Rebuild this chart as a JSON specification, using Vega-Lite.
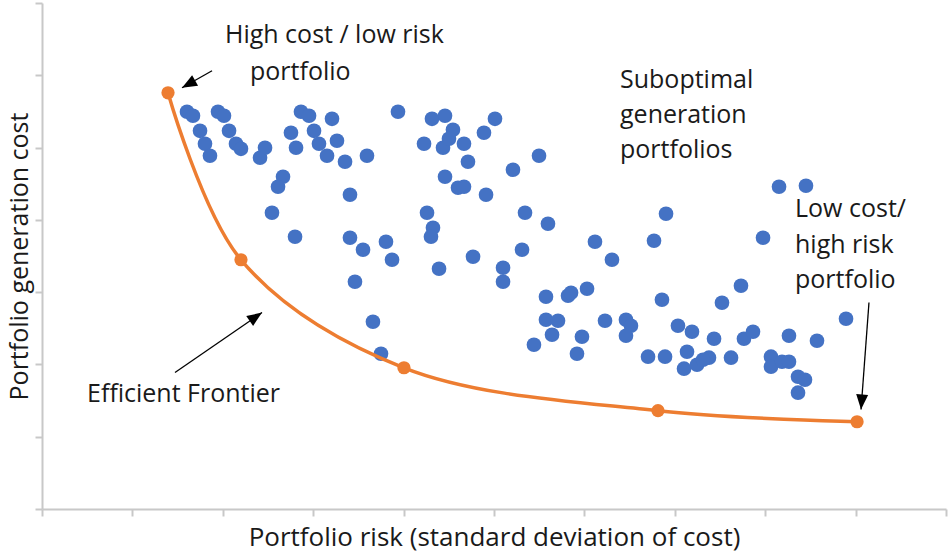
{
  "$schema": "https://vega.github.io/schema/vega-lite/v6.json",
  "width": 904,
  "height": 506,
  "autosize": {"type": "none"},
  "padding": {"left": 42, "top": 3, "right": 2, "bottom": 43},
  "background": "white",
  "config": {
    "view": {"stroke": null},
    "font": "Open Sans",
    "axis": {
      "grid": false,
      "labels": false,
      "domainColor": "#c8c8c8",
      "domainWidth": 2,
      "tickColor": "#c8c8c8",
      "tickWidth": 2,
      "tickSize": 7,
      "titleFont": "Open Sans",
      "titleFontSize": 26,
      "titleFontWeight": "normal",
      "titleColor": "#1a1a1a"
    }
  },
  "datasets": {
    "portfolios": [
      {"risk": 1.604, "cost": 5.495}, {"risk": 1.670, "cost": 5.440}, {"risk": 1.748, "cost": 5.232},
      {"risk": 1.803, "cost": 5.053}, {"risk": 1.858, "cost": 4.887}, {"risk": 1.947, "cost": 5.495},
      {"risk": 2.013, "cost": 5.440}, {"risk": 2.069, "cost": 5.232}, {"risk": 2.146, "cost": 5.053},
      {"risk": 2.201, "cost": 4.983}, {"risk": 2.412, "cost": 4.859}, {"risk": 2.467, "cost": 4.997},
      {"risk": 2.666, "cost": 4.596}, {"risk": 2.611, "cost": 4.458}, {"risk": 2.544, "cost": 4.098},
      {"risk": 2.799, "cost": 3.766}, {"risk": 2.754, "cost": 5.205}, {"risk": 2.810, "cost": 4.997},
      {"risk": 2.865, "cost": 5.495}, {"risk": 2.954, "cost": 5.440}, {"risk": 3.009, "cost": 5.232},
      {"risk": 3.064, "cost": 5.053}, {"risk": 3.153, "cost": 4.887}, {"risk": 3.208, "cost": 5.398},
      {"risk": 3.263, "cost": 5.094}, {"risk": 3.352, "cost": 4.804}, {"risk": 3.595, "cost": 4.887},
      {"risk": 3.407, "cost": 4.347}, {"risk": 3.407, "cost": 3.752}, {"risk": 3.551, "cost": 3.586},
      {"risk": 3.805, "cost": 3.697}, {"risk": 3.872, "cost": 3.448}, {"risk": 3.462, "cost": 3.144},
      {"risk": 3.661, "cost": 2.591}, {"risk": 3.750, "cost": 2.148}, {"risk": 3.938, "cost": 5.495},
      {"risk": 4.314, "cost": 5.398}, {"risk": 4.458, "cost": 5.440}, {"risk": 4.226, "cost": 5.053},
      {"risk": 4.436, "cost": 4.997}, {"risk": 4.458, "cost": 4.596}, {"risk": 4.259, "cost": 4.098},
      {"risk": 4.325, "cost": 3.891}, {"risk": 4.303, "cost": 3.766}, {"risk": 4.392, "cost": 3.324},
      {"risk": 4.546, "cost": 5.246}, {"risk": 4.502, "cost": 5.122}, {"risk": 4.668, "cost": 5.053},
      {"risk": 4.712, "cost": 4.804}, {"risk": 4.889, "cost": 5.205}, {"risk": 5.011, "cost": 5.398},
      {"risk": 4.602, "cost": 4.444}, {"risk": 4.668, "cost": 4.458}, {"risk": 4.912, "cost": 4.347},
      {"risk": 5.210, "cost": 4.693}, {"risk": 5.498, "cost": 4.887}, {"risk": 4.768, "cost": 3.490},
      {"risk": 5.100, "cost": 3.338}, {"risk": 5.100, "cost": 3.144}, {"risk": 5.310, "cost": 3.586},
      {"risk": 5.343, "cost": 4.098}, {"risk": 5.597, "cost": 3.946}, {"risk": 6.117, "cost": 3.697},
      {"risk": 6.305, "cost": 3.448}, {"risk": 6.903, "cost": 4.084}, {"risk": 6.770, "cost": 3.711},
      {"risk": 6.858, "cost": 2.895}, {"risk": 5.575, "cost": 2.936}, {"risk": 5.819, "cost": 2.950},
      {"risk": 5.852, "cost": 2.992}, {"risk": 6.029, "cost": 3.047}, {"risk": 5.575, "cost": 2.618},
      {"risk": 5.708, "cost": 2.604}, {"risk": 5.642, "cost": 2.411}, {"risk": 5.442, "cost": 2.272},
      {"risk": 5.973, "cost": 2.383}, {"risk": 5.918, "cost": 2.148}, {"risk": 6.228, "cost": 2.604},
      {"risk": 6.460, "cost": 2.618}, {"risk": 6.515, "cost": 2.535}, {"risk": 6.460, "cost": 2.397},
      {"risk": 6.704, "cost": 2.107}, {"risk": 6.892, "cost": 2.107}, {"risk": 7.035, "cost": 2.535},
      {"risk": 7.190, "cost": 2.452}, {"risk": 7.135, "cost": 2.176}, {"risk": 7.102, "cost": 1.941},
      {"risk": 7.246, "cost": 1.996}, {"risk": 8.153, "cost": 4.458}, {"risk": 8.451, "cost": 4.472},
      {"risk": 7.976, "cost": 3.752}, {"risk": 7.732, "cost": 3.089}, {"risk": 7.522, "cost": 2.853},
      {"risk": 8.894, "cost": 2.632}, {"risk": 7.434, "cost": 2.355}, {"risk": 7.765, "cost": 2.355},
      {"risk": 7.865, "cost": 2.452}, {"risk": 8.263, "cost": 2.397}, {"risk": 8.573, "cost": 2.328},
      {"risk": 7.378, "cost": 2.093}, {"risk": 7.312, "cost": 2.065}, {"risk": 7.622, "cost": 2.093},
      {"risk": 8.064, "cost": 2.107}, {"risk": 8.064, "cost": 1.968}, {"risk": 8.186, "cost": 2.037},
      {"risk": 8.263, "cost": 2.037}, {"risk": 8.363, "cost": 1.830}, {"risk": 8.440, "cost": 1.788},
      {"risk": 8.363, "cost": 1.609}
    ],
    "frontier": [
      {"risk": 1.394, "cost": 5.758},
      {"risk": 2.201, "cost": 3.448},
      {"risk": 4.004, "cost": 1.954},
      {"risk": 6.814, "cost": 1.360},
      {"risk": 9.016, "cost": 1.207}
    ],
    "labels": [
      {"lx": 2.024, "ly": 6.449, "label": "High cost / low risk"},
      {"lx": 2.301, "ly": 5.938, "label": "portfolio"},
      {"lx": 6.394, "ly": 5.827, "label": "Suboptimal"},
      {"lx": 6.394, "ly": 5.343, "label": "generation"},
      {"lx": 6.394, "ly": 4.859, "label": "portfolios"},
      {"lx": 8.330, "ly": 4.043, "label": "Low cost/"},
      {"lx": 8.330, "ly": 3.545, "label": "high risk"},
      {"lx": 8.330, "ly": 3.061, "label": "portfolio"},
      {"lx": 0.498, "ly": 1.484, "label": "Efficient Frontier"}
    ],
    "arrows": [
      {"id": "a1", "sx": 1.881, "sy": 6.062, "tx": 1.549, "ty": 5.827},
      {"id": "a2", "sx": 9.148, "sy": 2.856, "tx": 9.060, "ty": 1.377},
      {"id": "a3", "sx": 1.471, "sy": 1.888, "tx": 2.434, "ty": 2.718}
    ]
  },
  "layer": [
    {
      "data": {"name": "portfolios"},
      "mark": {"type": "circle", "color": "#4472C4", "opacity": 1, "size": 215},
      "encoding": {
        "x": {
          "field": "risk", "type": "quantitative",
          "scale": {"domain": [0, 10], "nice": false, "zero": false},
          "axis": {"values": [0, 1, 2, 3, 4, 5, 6, 7, 8, 9, 10], "title": "Portfolio risk (standard deviation of cost)", "titlePadding": 7}
        },
        "y": {
          "field": "cost", "type": "quantitative",
          "scale": {"domain": [0, 7], "nice": false, "zero": false},
          "axis": {"values": [0, 1, 2, 3, 4, 5, 6, 7], "title": "Portfolio generation cost", "titlePadding": 2, "titleFontSize": 25}
        }
      }
    },
    {
      "data": {"name": "frontier"},
      "mark": {"type": "line", "color": "#ED7D31", "strokeWidth": 3.5, "interpolate": "catmull-rom"},
      "encoding": {
        "x": {"field": "risk", "type": "quantitative"},
        "y": {"field": "cost", "type": "quantitative"}
      }
    },
    {
      "data": {"name": "frontier"},
      "mark": {"type": "circle", "color": "#ED7D31", "opacity": 1, "size": 175},
      "encoding": {
        "x": {"field": "risk", "type": "quantitative"},
        "y": {"field": "cost", "type": "quantitative"}
      }
    },
    {
      "data": {"name": "arrows"},
      "mark": {"type": "rule", "color": "#000000", "strokeWidth": 1.3},
      "encoding": {
        "x": {"field": "sx", "type": "quantitative"},
        "y": {"field": "sy", "type": "quantitative"},
        "x2": {"field": "tx"},
        "y2": {"field": "ty"}
      }
    },
    {
      "data": {"name": "arrows"},
      "transform": [{"filter": "datum.id === 'a1'"}],
      "mark": {"type": "point", "shape": "M0,0L-2,-0.8L-2,0.8Z", "filled": true, "color": "#000000", "opacity": 1, "size": 225, "angle": 150.5},
      "encoding": {
        "x": {"field": "tx", "type": "quantitative"},
        "y": {"field": "ty", "type": "quantitative"}
      }
    },
    {
      "data": {"name": "arrows"},
      "transform": [{"filter": "datum.id === 'a2'"}],
      "mark": {"type": "point", "shape": "M0,0L-2,-0.8L-2,0.8Z", "filled": true, "color": "#000000", "opacity": 1, "size": 225, "angle": 94.3},
      "encoding": {
        "x": {"field": "tx", "type": "quantitative"},
        "y": {"field": "ty", "type": "quantitative"}
      }
    },
    {
      "data": {"name": "arrows"},
      "transform": [{"filter": "datum.id === 'a3'"}],
      "mark": {"type": "point", "shape": "M0,0L-2,-0.8L-2,0.8Z", "filled": true, "color": "#000000", "opacity": 1, "size": 225, "angle": 325.4},
      "encoding": {
        "x": {"field": "tx", "type": "quantitative"},
        "y": {"field": "ty", "type": "quantitative"}
      }
    },
    {
      "data": {"name": "labels"},
      "mark": {"type": "text", "align": "left", "baseline": "alphabetic", "font": "Open Sans", "fontSize": 25, "color": "#1a1a1a"},
      "encoding": {
        "x": {"field": "lx", "type": "quantitative"},
        "y": {"field": "ly", "type": "quantitative"},
        "text": {"field": "label"}
      }
    }
  ]
}
